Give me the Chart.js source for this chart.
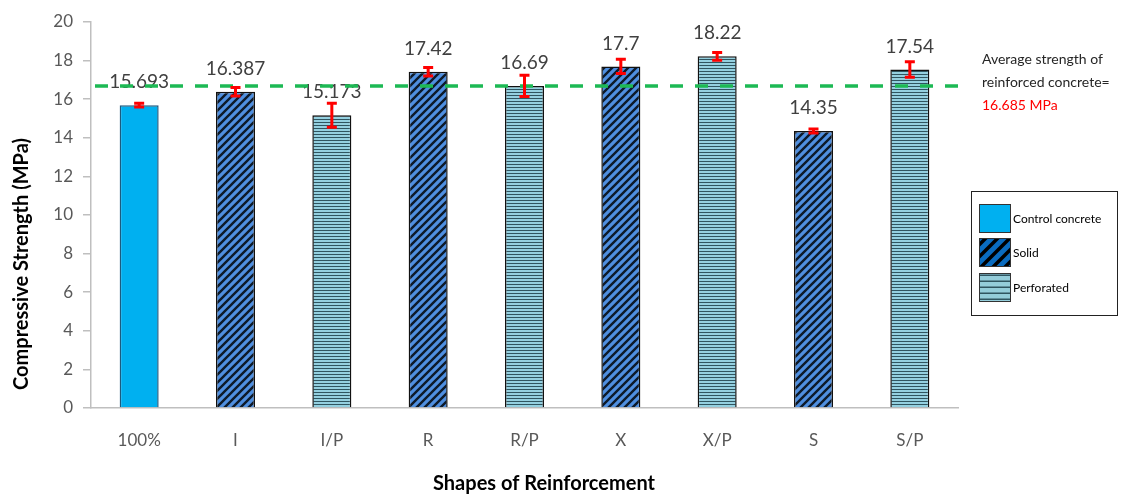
<!DOCTYPE html>
<html>
<head>
<meta charset="utf-8">
<script src="https://cdn.jsdelivr.net/npm/chart.js@4.4.1/dist/chart.umd.min.js"></script>
<style>
  body { margin: 0; background: #fff; }
</style>
</head>
<body>
<canvas id="chart" width="1140" height="495"></canvas>
<script>
const categories = ["100%", "I", "I/P", "R", "R/P", "X", "X/P", "S", "S/P"];
const strengths = [15.693, 16.387, 15.173, 17.42, 16.69, 17.7, 18.22, 14.35, 17.54];
const errors = [0.1, 0.22, 0.62, 0.22, 0.55, 0.37, 0.2, 0.1, 0.4];
const kinds = ["control", "solid", "perforated", "solid", "perforated", "solid", "perforated", "solid", "perforated"];
const averageStrength = 16.685;
const yTicks = [0, 2, 4, 6, 8, 10, 12, 14, 16, 18, 20];

const FONT = "Lato, 'Open Sans', sans-serif";
const ctx = document.getElementById("chart").getContext("2d");

// stripe fills like the Excel pattern fills
function diagonal(bg, fg, size, lw) {
  const c = document.createElement("canvas");
  c.width = size; c.height = size;
  const g = c.getContext("2d");
  g.fillStyle = bg;
  g.fillRect(0, 0, size, size);
  g.strokeStyle = fg;
  g.lineWidth = lw;
  g.beginPath();
  g.moveTo(-size / 2, size / 2); g.lineTo(size / 2, -size / 2);
  g.moveTo(0, size); g.lineTo(size, 0);
  g.moveTo(size / 2, size * 1.5); g.lineTo(size * 1.5, size / 2);
  g.stroke();
  return ctx.createPattern(c, "repeat");
}
function horizontal(bg, fg, size, lw) {
  const c = document.createElement("canvas");
  c.width = 4; c.height = size;
  const g = c.getContext("2d");
  g.fillStyle = bg;
  g.fillRect(0, 0, 4, size);
  g.fillStyle = fg;
  g.fillRect(0, size - lw, 4, lw);
  return ctx.createPattern(c, "repeat");
}

const fills = {
  control: "#00b0f0",
  solid: diagonal("#4f8fe0", "#0d1a2a", 8, 2.4),
  perforated: horizontal("#94d0e0", "#2f5560", 3, 1)
};
const legendFills = {
  control: "#00b0f0",
  solid: diagonal("#0a6cc0", "#000000", 12, 3.5),
  perforated: horizontal("#94cdda", "#2f5560", 6, 1.5)
};
const borders = { control: "#1d5a7e", solid: "#111111", perforated: "#111111" };

const extras = {
  id: "extras",
  afterDatasetsDraw(chart) {
    const c = chart.ctx;
    const meta = chart.getDatasetMeta(0);
    const y = chart.scales.y;
    const area = chart.chartArea;
    c.save();
    // value labels
    c.font = "19px " + FONT;
    c.fillStyle = "#404040";
    c.textAlign = "center";
    c.textBaseline = "middle";
    meta.data.forEach((bar, i) => {
      c.fillText(String(strengths[i]), bar.x, bar.y - 23);
    });
    // average line
    const ay = y.getPixelForValue(averageStrength);
    c.strokeStyle = "#1db954";
    c.lineWidth = 3.5;
    c.setLineDash([13, 12]);
    c.beginPath();
    c.moveTo(area.left + 4, ay);
    c.lineTo(area.right + 10, ay);
    c.stroke();
    c.setLineDash([]);
    // error bars
    c.strokeStyle = "#ff0000";
    c.lineWidth = 3;
    meta.data.forEach((bar, i) => {
      const top = y.getPixelForValue(strengths[i] + errors[i]);
      const bot = y.getPixelForValue(strengths[i] - errors[i]);
      c.beginPath();
      c.moveTo(bar.x, top); c.lineTo(bar.x, bot);
      c.moveTo(bar.x - 5, top); c.lineTo(bar.x + 5, top);
      c.moveTo(bar.x - 5, bot); c.lineTo(bar.x + 5, bot);
      c.stroke();
    });
    c.restore();
  },
  afterDraw(chart) {
    const c = chart.ctx;
    c.save();
    // axis titles
    c.font = "bold 20px " + FONT;
    c.fillStyle = "#000";
    c.textAlign = "center";
    c.textBaseline = "middle";
    c.fillText("Shapes of Reinforcement", 544, 484);
    c.translate(22, 264);
    c.rotate(-Math.PI / 2);
    c.fillText("Compressive Strength (MPa)", 0, 0);
    c.restore();

    c.save();
    // note on the average
    c.font = "14px " + FONT;
    c.textBaseline = "middle";
    c.fillStyle = "#262626";
    c.fillText("Average strength of", 982, 59);
    c.fillText("reinforced concrete=", 982, 82);
    c.fillStyle = "#ff0000";
    c.fillText(averageStrength + " MPa", 982, 105);

    // legend box
    c.strokeStyle = "#222";
    c.lineWidth = 1;
    c.strokeRect(971.5, 191.5, 146, 124);
    const entries = [["control", "Control concrete", 204], ["solid", "Solid", 238], ["perforated", "Perforated", 273]];
    c.font = "12px " + FONT;
    c.fillStyle = "#000";
    entries.forEach(([k, text, top]) => {
      c.fillStyle = legendFills[k];
      c.fillRect(979, top, 31, 28);
      c.strokeStyle = "#333";
      c.strokeRect(979.5, top + 0.5, 31, 28);
      c.fillStyle = "#000";
      c.fillText(text, 1013, top + 15);
    });
    c.restore();
  }
};

new Chart(ctx, {
  type: "bar",
  data: {
    labels: categories,
    datasets: [{
      label: "Compressive Strength",
      data: strengths,
      backgroundColor: kinds.map(k => fills[k]),
      borderColor: kinds.map(k => borders[k]),
      borderWidth: 1.5,
      borderSkipped: "bottom",
      barPercentage: 0.405,
      categoryPercentage: 1
    }]
  },
  options: {
    responsive: false,
    devicePixelRatio: 1,
    animation: false,
    layout: { padding: { left: 0, right: 182, top: 22, bottom: 0 } },
    plugins: { legend: { display: false }, tooltip: { enabled: false } },
    scales: {
      x: {
        grid: { display: false, drawTicks: false },
        border: { display: true, color: "#bfbfbf", width: 1.5 },
        ticks: { color: "#595959", font: { family: FONT, size: 17 }, padding: 22 },
        afterFit(s) { s.height = 87; }
      },
      y: {
        min: 0,
        max: 20,
        afterBuildTicks(s) { s.ticks = yTicks.map(v => ({ value: v })); },
        grid: { drawOnChartArea: false, tickLength: 8, color: "#bfbfbf", lineWidth: 1.5 },
        border: { display: true, color: "#bfbfbf", width: 1.5 },
        ticks: { color: "#595959", font: { family: FONT, size: 17 }, padding: 10 },
        afterFit(s) { s.width = 91; }
      }
    }
  },
  plugins: [extras]
});
</script>
</body>
</html>
